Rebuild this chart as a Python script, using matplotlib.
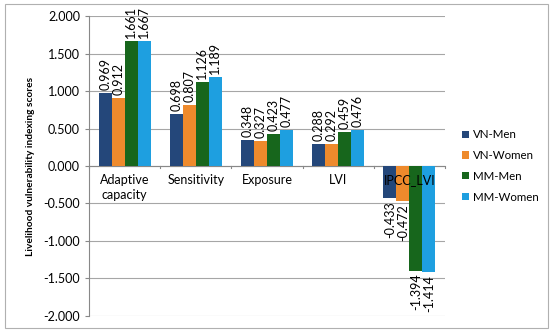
import matplotlib
matplotlib.use("Agg")
import matplotlib.pyplot as plt
import numpy as np
from matplotlib.patches import Rectangle

categories = ["Adaptive\ncapacity", "Sensitivity", "Exposure", "LVI", "IPCC_LVI"]
series = ["VN-Men", "VN-Women", "MM-Men", "MM-Women"]
vn_men = [0.969, 0.698, 0.348, 0.288, -0.433]
vn_women = [0.912, 0.807, 0.327, 0.292, -0.472]
mm_men = [1.661, 1.126, 0.423, 0.459, -1.394]
mm_women = [1.667, 1.189, 0.477, 0.476, -1.414]
colors = ["#24477a", "#ee8a2c", "#17661c", "#1e9fe0"]

plt.rcParams["font.family"] = ["Lato", "DejaVu Sans"]
fig = plt.figure(figsize=(5.5, 3.34), dpi=100)
ax = fig.add_axes([0.162, 0.054, 0.647, 0.898])

x = np.arange(len(categories))
w = 0.183
for i, (vals, name) in enumerate(zip([vn_men, vn_women, mm_men, mm_women], series)):
    xs = x + (i - 1.5) * w
    ax.bar(xs, vals, w, color=colors[i], label=name, zorder=3)
    for xx, v in zip(xs, vals):
        off = 0.04 if v >= 0 else -0.04
        ax.text(xx, v + off, f"{v:.3f}", rotation=90, ha="center",
                va="bottom" if v >= 0 else "top", fontsize=9, zorder=4)

ax.set_xlim(-0.5, len(categories) - 0.5)
ax.set_ylim(-2.0, 2.0)
ax.set_yticks(np.arange(-2.0, 2.01, 0.5))
ax.set_yticklabels([f"{t:.3f}" for t in np.arange(-2.0, 2.01, 0.5)], fontsize=9)
ax.yaxis.grid(True, color="#a6a6a6", lw=0.8, zorder=0)
ax.set_xticks([])
ax.tick_params(axis="y", length=3, color="#888888")
for s in ["top", "right", "bottom"]:
    ax.spines[s].set_visible(False)
ax.spines["left"].set_color("#888888")
ax.axhline(0, color="#888888", lw=0.8, zorder=2)
for b in np.arange(-0.5, len(categories), 1.0):
    ax.plot([b, b], [0, -0.03], color="#888888", lw=0.8, clip_on=False)

for xi, c in zip(x, categories):
    ax.text(xi, -0.11, c, ha="center", va="top", fontsize=9, linespacing=1.25, zorder=5)

ax.set_ylabel("Livelihood vulnerability indexing scores", fontsize=7.3, fontweight="bold", labelpad=6)

ax.legend(loc="center left", bbox_to_anchor=(1.02, 0.5), frameon=False, fontsize=8.3,
          handlelength=0.6, handleheight=0.6, handletextpad=0.3, labelspacing=0.85)

fig.patches.append(Rectangle((0.009, 0.018), 0.987, 0.97, transform=fig.transFigure,
                             fill=False, ec="#b0b0b0", lw=0.8))

fig.savefig("out.png", dpi=100)
